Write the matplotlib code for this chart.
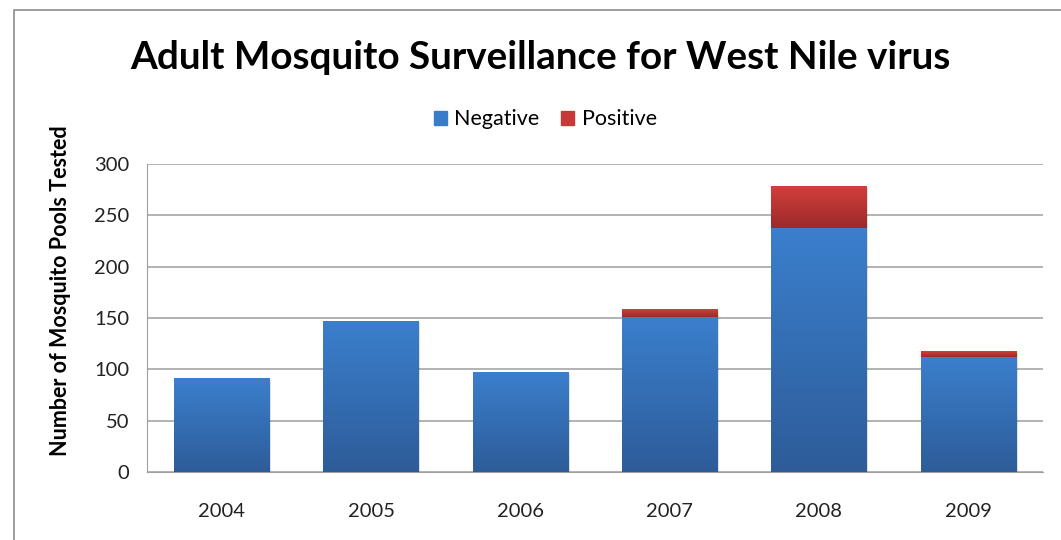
import numpy as np
import matplotlib.pyplot as plt
import matplotlib as mpl
from matplotlib.colors import LinearSegmentedColormap
from matplotlib.patches import Rectangle

years = ['2004', '2005', '2006', '2007', '2008', '2009']
negative = [91, 147, 97, 151, 238, 112]
positive = [0, 0, 0, 7, 40, 5]

mpl.rcParams['font.family'] = ['Lato', 'DejaVu Sans']

fig = plt.figure(figsize=(10.61, 5.4), dpi=100)
ax = fig.add_axes([0.1386, 0.126, 0.8444, 0.570])

x = np.arange(len(years))
blue_bars = ax.bar(x, negative, width=0.64, color='#3A7CC9', zorder=2)
red_bars = ax.bar(x, positive, width=0.64, bottom=negative, color='#C43A37', zorder=2)

# vertical gradients like the office chart fill
blue_cmap = LinearSegmentedColormap.from_list('b', ['#2D5C99', '#3B7FCD'])
red_cmap = LinearSegmentedColormap.from_list('r', ['#9B2A29', '#D13F3C'])
grad = np.linspace(0, 1, 256).reshape(-1, 1)
for bars, cmap in [(blue_bars, blue_cmap), (red_bars, red_cmap)]:
    for p in bars:
        if p.get_height() <= 0:
            continue
        x0, y0, w, h = p.get_x(), p.get_y(), p.get_width(), p.get_height()
        ax.imshow(grad, cmap=cmap, origin='lower', aspect='auto',
                  extent=[x0, x0 + w, y0, y0 + h], zorder=3)
        # faint shadow
        ax.add_patch(Rectangle((x0 + 0.01, y0 - 1.2), w, h, color='#000000',
                               alpha=0.12, zorder=1.5, lw=0))

ax.set_xlim(-0.5, len(years) - 0.5)
ax.set_ylim(0, 300)
ax.set_yticks(range(0, 301, 50))
ax.set_xticks(x)
ax.set_xticklabels(years)
ax.tick_params(axis='both', length=0, labelsize=14.5, colors='#222222')
ax.tick_params(axis='x', pad=22)
ax.tick_params(axis='y', pad=13)
ax.yaxis.grid(True, color='#A6A6A6', lw=1.2, zorder=0)
ax.set_axisbelow(True)
for s in ['top', 'right']:
    ax.spines[s].set_visible(False)
ax.spines['left'].set_color('#A0A0A0')
ax.spines['bottom'].set_color('#A0A0A0')

ax.set_ylabel('Number of Mosquito Pools Tested', fontsize=15.5, fontweight='bold',
              va='center')
ax.yaxis.set_label_coords(-0.097, 0.59)

fig.text(0.509, 0.893, 'Adult Mosquito Surveillance for West Nile virus',
         ha='center', va='center', fontsize=27.8, fontweight='bold')

handles = [Rectangle((0, 0), 1, 1, color='#3A7CC9'), Rectangle((0, 0), 1, 1, color='#C43A37')]
fig.legend(handles, ['Negative', 'Positive'], loc='center', bbox_to_anchor=(0.514, 0.779),
           ncol=2, frameon=False, fontsize=15.5, handlelength=0.6, handleheight=0.6,
           handletextpad=0.35, columnspacing=1.0)

# outer chart frame
fig.patches.append(Rectangle((14 / 1061, -0.1), 1.1, 1 - 10 / 540 + 0.1,
                             transform=fig.transFigure, fill=False,
                             edgecolor='#8C8C8C', lw=1.2))

plt.savefig('out.png', dpi=100)
